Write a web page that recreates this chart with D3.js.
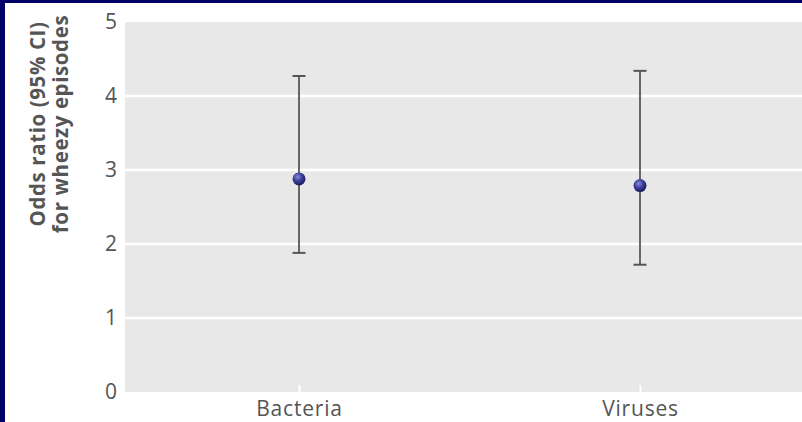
<!DOCTYPE html>
<html><head><meta charset="utf-8">
<script src="https://cdn.jsdelivr.net/npm/d3@7"></script>
<style>html,body{margin:0;padding:0;background:#fff;}svg{display:block;}</style>
</head><body>
<script>
const categories = ["Bacteria", "Viruses"];
const oddsRatio = [2.88, 2.79];
const lowerCI = [1.88, 1.72];
const upperCI = [4.27, 4.34];
const yTicks = [0, 1, 2, 3, 4, 5];
const yTitle = ["Odds ratio (95% CI)", "for wheezy episodes"];

(function () {
const W = 802, H = 422;
const svg = d3.select("body").append("svg").attr("width", W).attr("height", H);
const defs = svg.append("defs");
const grad = defs.append("radialGradient").attr("id", "ball").attr("cx", "40%").attr("cy", "35%").attr("r", "65%");
grad.append("stop").attr("offset", "0%").attr("stop-color", "#8a8ad6");
grad.append("stop").attr("offset", "55%").attr("stop-color", "#3a3a98");
grad.append("stop").attr("offset", "100%").attr("stop-color", "#1c1c5e");

// border
svg.append("rect").attr("x", 0).attr("y", 0).attr("width", W).attr("height", H).attr("fill", "#fff");
svg.append("rect").attr("x", 0).attr("y", 0).attr("width", W).attr("height", 3).attr("fill", "#000066");
svg.append("rect").attr("x", 0).attr("y", 0).attr("width", 5).attr("height", H).attr("fill", "#000066");

const pL = 125, pR = 802, pT = 22, pB = 392;
const xs = d3.scalePoint().domain(categories).range([299, 640]);
const y = d3.scaleLinear().domain([0, 5]).range([pB, pT]);
const FONT = "Open Sans, sans-serif";

svg.append("rect").attr("x", pL).attr("y", pT).attr("width", pR - pL).attr("height", pB - pT).attr("fill", "#e8e8e8");

// gridlines
svg.append("g").selectAll("line").data(yTicks.filter(d => d > 0 && d < 5)).join("line")
  .attr("x1", pL).attr("x2", pR).attr("y1", d => y(d)).attr("y2", d => y(d))
  .attr("stroke", "#fff").attr("stroke-width", 2.5);

// y axis
const yAxis = svg.append("g").attr("transform", `translate(${pL},0)`)
  .call(d3.axisLeft(y).tickValues(yTicks).tickSize(0).tickPadding(8).tickFormat(d3.format("d")));
yAxis.select(".domain").remove();
yAxis.selectAll("text").attr("font-family", FONT).attr("font-size", 21).attr("fill", "#555");

// x axis
const xAxis = svg.append("g").attr("transform", `translate(0,${pB})`)
  .call(d3.axisBottom(xs).tickSize(-7).tickPadding(9));
xAxis.select(".domain").remove();
xAxis.selectAll("line").attr("stroke", "#fff").attr("stroke-width", 2);
xAxis.selectAll("text").attr("font-family", FONT).attr("font-size", 21)
  .attr("letter-spacing", 0.8).attr("fill", "#555");

// y title
const t = svg.append("text").attr("transform", "translate(45,124) rotate(-90)")
  .attr("text-anchor", "middle").attr("font-family", FONT)
  .attr("font-weight", "bold").attr("font-size", 20.5).attr("letter-spacing", 0.6).attr("fill", "#555");
t.selectAll("tspan").data(yTitle).join("tspan").attr("x", 0).attr("dy", (d, i) => i === 0 ? 0 : 23).text(d => d);

// error bars
const data = categories.map((c, i) => ({c, m: oddsRatio[i], lo: lowerCI[i], hi: upperCI[i]}));
const g = svg.append("g");
g.selectAll(".v").data(data).join("line").attr("class", "v")
  .attr("x1", d => xs(d.c)).attr("x2", d => xs(d.c)).attr("y1", d => y(d.lo)).attr("y2", d => y(d.hi))
  .attr("stroke", "#666").attr("stroke-width", 2);
g.selectAll(".cu").data(data).join("line").attr("class", "cu")
  .attr("x1", d => xs(d.c) - 6.5).attr("x2", d => xs(d.c) + 6.5).attr("y1", d => y(d.hi)).attr("y2", d => y(d.hi))
  .attr("stroke", "#555").attr("stroke-width", 2);
g.selectAll(".cl").data(data).join("line").attr("class", "cl")
  .attr("x1", d => xs(d.c) - 6.5).attr("x2", d => xs(d.c) + 6.5).attr("y1", d => y(d.lo)).attr("y2", d => y(d.lo))
  .attr("stroke", "#555").attr("stroke-width", 2);
g.selectAll("circle").data(data).join("circle")
  .attr("cx", d => xs(d.c)).attr("cy", d => y(d.m)).attr("r", 6.5)
  .attr("fill", "url(#ball)");
})();
</script>
</body></html>
